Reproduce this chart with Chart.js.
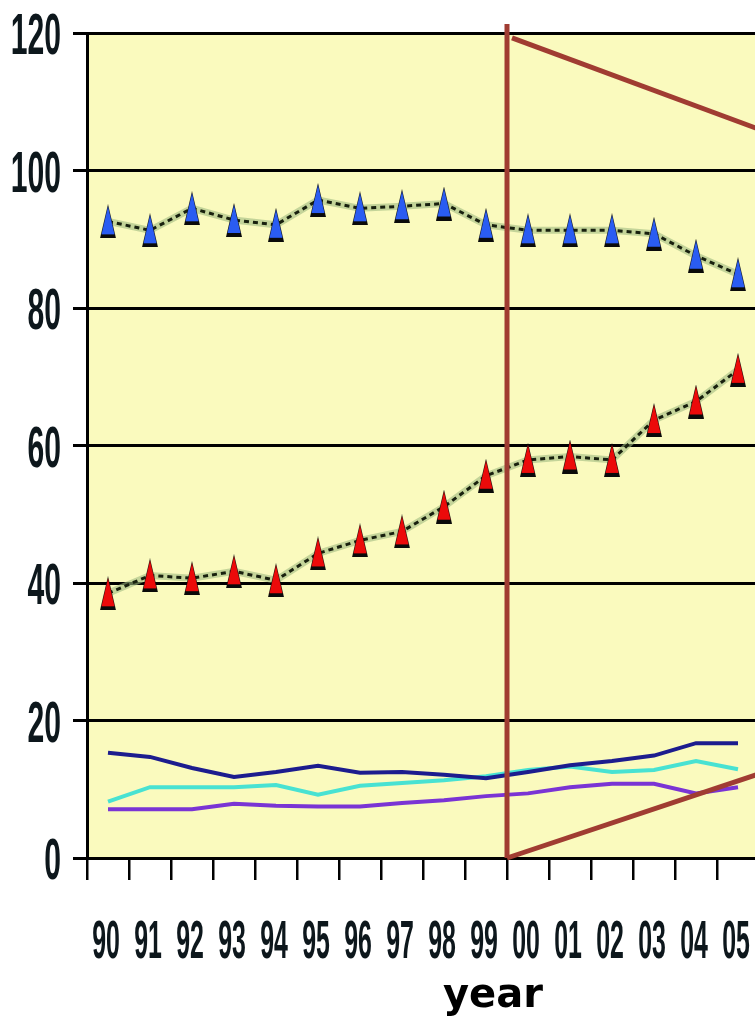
<!DOCTYPE html>
<html>
<head>
<meta charset="utf-8">
<script src="https://cdn.jsdelivr.net/npm/chart.js@4.4.0/dist/chart.umd.min.js"></script>
<style>
  html, body { margin: 0; padding: 0; background: #ffffff; overflow: hidden; width: 755px; height: 1020px; }
  #wrap { position: relative; width: 755px; height: 1020px; overflow: hidden; }
  canvas { display: block; }
</style>
</head>
<body>
<div id="wrap"><canvas id="c" width="770" height="1020" style="width:770px;height:1020px"></canvas></div>
<script>
// Years along the horizontal axis
const years = ['90','91','92','93','94','95','96','97','98','99','00','01','02','03','04','05'];
// Value ticks on the vertical axis
const yTickValues = [0, 20, 40, 60, 80, 100, 120];

// Series with triangle markers
const blueSeries = [92.6, 91.3, 94.5, 92.8, 92.1, 95.7, 94.5, 94.8, 95.2, 92.1, 91.3, 91.3, 91.3, 90.8, 87.6, 84.9];
const redSeries  = [38.5, 41.1, 40.7, 41.7, 40.4, 44.3, 46.2, 47.5, 51.1, 55.6, 57.9, 58.4, 57.9, 63.7, 66.4, 71.0];

// Low lines without markers
const navySeries   = [15.3, 14.7, 13.1, 11.8, 12.5, 13.4, 12.4, 12.5, 12.1, 11.6, 12.5, 13.5, 14.1, 14.9, 16.7, 16.7];
const cyanSeries   = [8.2, 10.3, 10.3, 10.3, 10.6, 9.2, 10.5, 10.9, 11.3, 11.9, 12.8, 13.3, 12.5, 12.8, 14.1, 12.9];
const purpleSeries = [7.1, 7.1, 7.1, 7.9, 7.6, 7.5, 7.5, 8.0, 8.4, 9.0, 9.4, 10.3, 10.8, 10.8, 9.4, 10.3];

// Tall triangle marker with a dark base
function makeTriangle(fill) {
  const c = document.createElement('canvas');
  c.width = 16; c.height = 34;
  const g = c.getContext('2d');
  g.fillStyle = '#0a0a0a';
  g.beginPath(); g.moveTo(8, 0); g.lineTo(16, 34); g.lineTo(0, 34); g.closePath(); g.fill();
  g.fillStyle = fill;
  g.beginPath(); g.moveTo(8, 2); g.lineTo(14.5, 30); g.lineTo(1.5, 30); g.closePath(); g.fill();
  return c;
}
const blueTri = makeTriangle('#2a5cf2');
const redTri = makeTriangle('#ec0a0a');

const HALO = 'rgba(160,186,128,0.6)';

function markerSet(data, tri) {
  return {
    data: data, borderColor: '#18200e', borderWidth: 3, borderDash: [5, 4],
    pointStyle: tri, pointRadius: 8, pointHoverRadius: 8, tension: 0, fill: false
  };
}
function haloSet(data) {
  return { data: data, borderColor: HALO, borderWidth: 7, pointRadius: 0, tension: 0, fill: false };
}
function plainSet(data, color) {
  return { data: data, borderColor: color, borderWidth: 4, pointRadius: 0, tension: 0, fill: false };
}

const plotBackground = {
  id: 'plotBackground',
  beforeDraw(chart) {
    const { ctx, chartArea: a } = chart;
    ctx.save();
    ctx.fillStyle = '#fafabe';
    ctx.fillRect(a.left, a.top, a.right - a.left, a.bottom - a.top);
    ctx.restore();
  }
};

// Bracket lines marking the 2000-2005 span
const bracketLines = {
  id: 'bracketLines',
  afterDatasetsDraw(chart) {
    const { ctx, scales: { x, y } } = chart;
    const xs = x.getPixelForValue(9.5);
    const xe = x.getPixelForValue(15.5);
    ctx.save();
    ctx.strokeStyle = '#a03c32';
    ctx.lineWidth = 5;
    ctx.lineCap = 'butt';
    ctx.beginPath();
    ctx.moveTo(xs, y.getPixelForValue(121.3));
    ctx.lineTo(xs, y.getPixelForValue(0));
    ctx.stroke();
    ctx.beginPath();
    ctx.moveTo(xs + 5, y.getPixelForValue(119.3));
    ctx.lineTo(xe, y.getPixelForValue(106.0));
    ctx.stroke();
    ctx.beginPath();
    ctx.moveTo(xs, y.getPixelForValue(0));
    ctx.lineTo(xe, y.getPixelForValue(12.25));
    ctx.stroke();
    ctx.restore();
  }
};

// Condensed tick labels and the axis title
const axisText = {
  id: 'axisText',
  afterDraw(chart) {
    const { ctx, scales: { x, y } } = chart;
    ctx.save();
    ctx.fillStyle = '#0d171c';
    ctx.textBaseline = 'alphabetic';
    ctx.font = 'bold 58px "Liberation Sans", Arial, sans-serif';
    ctx.textAlign = 'right';
    y.ticks.forEach(t => {
      const py = y.getPixelForValue(t.value);
      ctx.save();
      ctx.translate(61, py + 21);
      ctx.scale(0.52, 1);
      ctx.fillText(String(t.value), 0, 0);
      ctx.restore();
    });
    ctx.font = 'bold 53px "Liberation Sans", Arial, sans-serif';
    ctx.textAlign = 'center';
    years.forEach((lab, i) => {
      const px = x.getPixelForValue(i);
      ctx.save();
      ctx.translate(px - 2, 958);
      ctx.scale(0.47, 1);
      ctx.fillText(lab, 0, 0);
      ctx.restore();
    });
    ctx.fillStyle = '#000000';
    ctx.font = 'bold 40px "DejaVu Sans", sans-serif';
    ctx.fillText('year', 493, 1007);
    ctx.restore();
  }
};

new Chart(document.getElementById('c'), {
  type: 'line',
  data: {
    labels: years,
    datasets: [
      markerSet(blueSeries, blueTri),
      markerSet(redSeries, redTri),
      haloSet(blueSeries),
      haloSet(redSeries),
      plainSet(navySeries, '#1c1c8e'),
      plainSet(cyanSeries, '#48e2d2'),
      plainSet(purpleSeries, '#7a34d4')
    ]
  },
  options: {
    responsive: false,
    animation: false,
    devicePixelRatio: 1,
    layout: { padding: { top: 33, right: 11, left: 0, bottom: 0 } },
    plugins: { legend: { display: false }, tooltip: { enabled: false }, title: { display: false } },
    scales: {
      x: {
        offset: true,
        grid: { display: true, drawOnChartArea: false, drawTicks: true, tickLength: 22, color: '#000000', lineWidth: 2.5, offset: true },
        border: { display: true, color: '#000000', width: 3 },
        ticks: { display: false },
        afterFit(scale) { scale.height = 162; }
      },
      y: {
        min: 0, max: 120,
        afterBuildTicks(scale) { scale.ticks = yTickValues.map(v => ({ value: v })); },
        grid: { color: '#000000', lineWidth: 3, tickLength: 14, drawTicks: true },
        border: { display: true, color: '#000000', width: 3 },
        ticks: { display: false },
        afterFit(scale) { scale.width = 87; }
      }
    }
  },
  plugins: [plotBackground, bracketLines, axisText]
});
</script>
</body>
</html>
